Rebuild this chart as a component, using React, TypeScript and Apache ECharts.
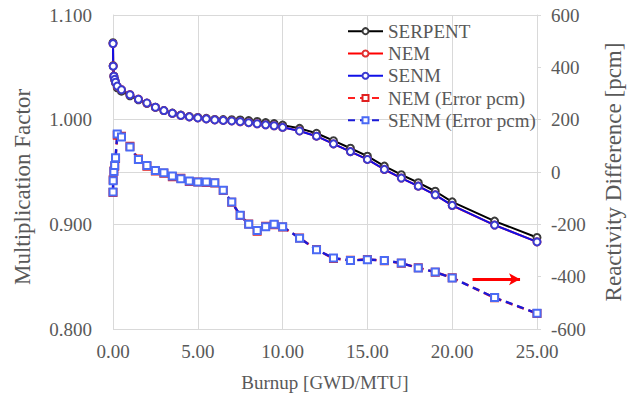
import React, { useEffect, useRef } from "react";
import * as echarts from "echarts";

const burnup = [0, 0.01, 0.05, 0.1, 0.15, 0.25, 0.5, 1, 1.5, 2, 2.5, 3, 3.5, 4, 4.5, 5, 5.5, 6, 6.5, 7, 7.5, 8, 8.5, 9, 9.5, 10, 11, 12, 13, 14, 15, 16, 17, 18, 19, 20, 22.5, 25];

const serpentK = [1.0735, 1.0515, 1.0415, 1.0382, 1.0352, 1.0305, 1.0272, 1.0228, 1.019, 1.0156, 1.0118, 1.0087, 1.0063, 1.0044, 1.003, 1.0021, 1.0012, 1.0002, 1.0, 0.9999, 0.9997, 0.9991, 0.9983, 0.9972, 0.9962, 0.9948, 0.9917, 0.987, 0.9799, 0.9727, 0.9651, 0.9556, 0.9474, 0.9398, 0.9316, 0.9215, 0.9031, 0.8874];

const nemK = [1.0726, 1.0512, 1.0416, 1.0384, 1.0357, 1.032, 1.0287, 1.0239, 1.0196, 1.0158, 1.0119, 1.0087, 1.0061, 1.0042, 1.0027, 1.0017, 1.0008, 0.9998, 0.9993, 0.9988, 0.998, 0.9971, 0.9961, 0.9951, 0.9942, 0.9927, 0.9893, 0.9842, 0.9768, 0.9695, 0.962, 0.9524, 0.9442, 0.9365, 0.9282, 0.918, 0.8993, 0.8832];

const senmK = [1.0727, 1.0511, 1.0415, 1.0385, 1.0358, 1.0321, 1.0286, 1.0238, 1.0195, 1.0159, 1.0119, 1.0087, 1.0061, 1.0041, 1.0027, 1.0017, 1.0008, 0.9998, 0.9993, 0.9988, 0.9981, 0.9971, 0.9961, 0.9951, 0.9942, 0.9927, 0.9892, 0.9842, 0.9769, 0.9695, 0.962, 0.9525, 0.9442, 0.9365, 0.9282, 0.9181, 0.8993, 0.8832];

const nemErr = [-78, -30, 4, 22, 52, 140, 137, 98, 50, 22, 4, -5, -18, -24, -36, -38, -40, -42, -71, -116, -166, -199, -226, -207, -202, -210, -252, -296, -331, -337, -334, -339, -349, -366, -383, -404, -481, -541];

const senmErr = [-76, -33, 2, 25, 54, 145, 134, 96, 48, 25, 6, -3, -15, -26, -34, -38, -38, -41, -70, -115, -165, -200, -224, -209, -200, -209, -253, -297, -329, -338, -335, -338, -348, -367, -382, -405, -480, -540];

const xTicks = { min: 0, max: 25, interval: 5 };
const kTicks = { min: 0.8, max: 1.1, interval: 0.1 };
const pcmTicks = { min: -600, max: 600, interval: 200 };

const arrowFrom = [21.2, -410];
const arrowTo = [24.0, -410];

const FONT = "Liberation Serif";
const TXT = "#595959";
const GRID = "#d9d9d9";

const pair = (ys: number[]) => burnup.map((b, i) => [b, ys[i]]);

export default function App() {
  const ref = useRef<HTMLDivElement>(null);
  useEffect(() => {
    if (!ref.current) return;
    const chart = echarts.init(ref.current, null, { renderer: "svg" });
    const kLine = (name: string, data: number[], line: string, sym: string) => ({
      name,
      type: "line",
      yAxisIndex: 0,
      data: pair(data),
      symbol: "emptyCircle",
      symbolSize: 7,
      lineStyle: { color: line, width: 2 },
      itemStyle: { color: sym, borderWidth: 1.4 },
    });
    const errLine = (name: string, data: number[], line: string, sym: string, extra: any = {}) => ({
      name,
      type: "line",
      yAxisIndex: 1,
      data: pair(data),
      symbol: "emptyRect",
      symbolSize: 7,
      lineStyle: { color: line, width: 2.4, type: [7, 5] },
      itemStyle: { color: sym, borderWidth: 1.4 },
      ...extra,
    });
    chart.setOption({
      animation: false,
      backgroundColor: "#ffffff",
      textStyle: { fontFamily: FONT },
      grid: { left: 113, right: 102, top: 15, bottom: 65.5 },
      legend: {
        orient: "vertical",
        left: 342,
        top: 15,
        itemWidth: 35,
        itemHeight: 7.5,
        itemGap: 0,
        textStyle: { fontFamily: FONT, fontSize: 19, color: TXT, lineHeight: 22.3 },
        data: ["SERPENT", "NEM", "SENM", "NEM (Error pcm)", "SENM (Error pcm)"],
      },
      xAxis: {
        type: "value",
        ...xTicks,
        name: "Burnup [GWD/MTU]",
        nameLocation: "middle",
        nameGap: 44,
        nameTextStyle: { fontFamily: FONT, fontSize: 19, color: TXT },
        axisLine: { show: true, lineStyle: { color: GRID } },
        axisTick: { show: false },
        axisLabel: { fontFamily: FONT, fontSize: 19, color: TXT, margin: 13, formatter: (v: number) => v.toFixed(2) },
        splitLine: { show: true, lineStyle: { color: GRID, width: 1 } },
      },
      yAxis: [
        {
          type: "value",
          ...kTicks,
          name: "Multiplication Factor",
          nameLocation: "middle",
          nameRotate: 90,
          nameGap: 79,
          nameTextStyle: { fontFamily: FONT, fontSize: 23, color: TXT, padding: [0, 30, 0, 0] },
          axisLine: { show: true, lineStyle: { color: GRID } },
          axisTick: { show: false },
          axisLabel: { fontFamily: FONT, fontSize: 19, color: TXT, margin: 21, formatter: (v: number) => v.toFixed(3) },
          splitLine: { show: true, lineStyle: { color: GRID, width: 1 } },
        },
        {
          type: "value",
          position: "right",
          ...pcmTicks,
          name: "Reactivity Difference [pcm]",
          nameLocation: "middle",
          nameRotate: 90,
          nameGap: 65,
          nameTextStyle: { fontFamily: FONT, fontSize: 23, color: TXT },
          axisLine: { show: true, lineStyle: { color: GRID } },
          axisTick: { show: true, length: 4, lineStyle: { color: GRID } },
          axisLabel: { fontFamily: FONT, fontSize: 19, color: TXT, margin: 14 },
          splitLine: { show: false },
        },
      ],
      series: [
        kLine("SERPENT", serpentK, "#000000", "#3a3a3a"),
        kLine("NEM", nemK, "#ff0000", "#e03030"),
        kLine("SENM", senmK, "#1010e8", "#3a3ad0"),
        errLine("NEM (Error pcm)", nemErr, "#ff2020", "#e02020"),
        errLine("SENM (Error pcm)", senmErr, "#1a1ad8", "#4a6af5", {
          markLine: {
            silent: true,
            symbol: ["none", "arrow"],
            symbolSize: [9, 11],
            label: { show: false },
            lineStyle: { color: "#ff0000", width: 3, type: "solid" },
            data: [[{ coord: arrowFrom }, { coord: arrowTo }]],
          },
        }),
      ],
    });
    return () => chart.dispose();
  }, []);
  return <div ref={ref} style={{ width: 639, height: 397, position: "absolute", left: 0, top: 0 }} />;
}
